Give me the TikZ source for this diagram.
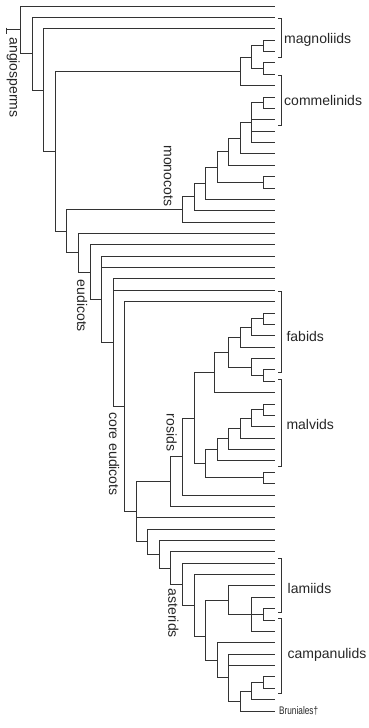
\documentclass[tikz,border=0pt]{standalone}
\usepackage{fontspec}
\setmainfont{Liberation Sans}
\newfontfamily\narrowfont[FakeStretch=0.75]{Liberation Sans}

\begin{document}
\begin{tikzpicture}[x=11.55pt, y=-11.37pt,
    every node/.style = {inner sep=0pt, text=black!85,
      font=\fontsize{14}{14}\selectfont},
    branch/.style = {draw=black!80, line width=0.8pt}]
  \tikzstyle{bracket}=[draw=black!80, line width=0.8pt]
  \tikzstyle{group}=[rotate=-90]
  \useasboundingbox (-1.792,-0.528) rectangle (30.07,63.5);

  % leaves, one per row
  \foreach \i in {0,...,62}
    \coordinate (l\i) at (22,\i);

  % backbone
  \coordinate (stem) at (-1.21,2.1);
  \coordinate (root) at (0,2.1);
  \coordinate (A) at (1,4.19);
  \coordinate (B) at (2,7.39);
  \coordinate (C) at (3,12.775);
  \coordinate (D) at (4,19.8);

  % magnoliids
  \coordinate (Mg) at (19,5.75);
  \coordinate (Mg1) at (20,4.5);
  \coordinate (c34) at (21,3.5);
  \coordinate (c56) at (21,5.5);

  % monocots
  \coordinate (M1) at (14,17.895);
  \coordinate (M2) at (15,16.789);
  \coordinate (M3) at (16,15.578);
  \coordinate (M4) at (17,14.156);
  \coordinate (M5) at (18,12.8125);
  \coordinate (M6) at (19,11.625);
  \coordinate (M7) at (20,10.25);
  \coordinate (c89) at (21,8.5);
  \coordinate (c1516) at (21,15.5);

  % eudicots
  \coordinate (E) at (5,21.70);
  \coordinate (F) at (6,23.40);
  \coordinate (G) at (7,25.81);
  \coordinate (H) at (8,29.62);
  \coordinate (I) at (9,35.23);
  \coordinate (J) at (10,44.46);

  % rosids
  \coordinate (Ros) at (13,41.81);
  \coordinate (RosA) at (14,39.62);
  \coordinate (RosB) at (15,36.24);
  \coordinate (Fab) at (16.8,32.22);
  \coordinate (Fa4) at (18,30.4375);
  \coordinate (Fa2) at (19,29.125);
  \coordinate (Fa1) at (20,28.25);
  \coordinate (Fa3) at (20,31.75);
  \coordinate (c2728) at (21,27.5);
  \coordinate (c3233) at (21,32.5);
  \coordinate (Mal) at (16,40.27);
  \coordinate (Ma4) at (17,39.03);
  \coordinate (Ma3) at (18,38.0625);
  \coordinate (Ma2) at (19,37.125);
  \coordinate (Ma1) at (20,36.25);
  \coordinate (c3536) at (21,35.5);
  \coordinate (c4142) at (21,41.5);

  % asterids
  \coordinate (K) at (11,47.11);
  \coordinate (L) at (12,48.22);
  \coordinate (N) at (13,49.43);
  \coordinate (O) at (14,50.87);
  \coordinate (P) at (15,52.74);
  \coordinate (Q) at (16,55.47);
  \coordinate (Lam) at (18,52.25);
  \coordinate (Lm2) at (20,53.5);
  \coordinate (c5354) at (21,53.5);
  \coordinate (Cam) at (17,57.53);
  \coordinate (Cm2) at (18,59.06);
  \coordinate (Cm3) at (19,61.125);
  \coordinate (Cm4) at (20,60.25);
  \coordinate (c5960) at (21,59.5);

  \draw[branch] (stem) -- (root);
  \draw[bracket] (-1.21,1.9) -- (-1.21,2.5);

  \foreach \p/\c in {root/l0, root/A, A/l1, A/B, B/l2, B/C, C/Mg, C/D,
      Mg/Mg1, Mg/l7, Mg1/c34, Mg1/c56, c34/l3, c34/l4, c56/l5, c56/l6,
      D/M1, D/E, M1/M2, M1/l19, M2/M3, M2/l18, M3/M4, M3/l17,
      M4/M5, M4/c1516, c1516/l15, c1516/l16, M5/M6, M5/l14,
      M6/M7, M6/l13, M7/c89, M7/l10, M7/l11, M7/l12, c89/l8, c89/l9,
      E/l20, E/F, F/l21, F/G, G/l22, G/l23, G/H, H/l24, H/l25, H/I,
      I/l26, I/J, J/Ros, J/l45, J/K,
      Ros/RosA, Ros/l44, RosA/RosB, RosA/l43, RosB/Fab, RosB/Mal,
      Fab/Fa4, Fab/l34, Fa4/Fa2, Fa4/Fa3, Fa2/Fa1, Fa2/l30,
      Fa1/c2728, Fa1/l29, c2728/l27, c2728/l28,
      Fa3/l31, Fa3/c3233, c3233/l32, c3233/l33,
      Mal/Ma4, Mal/c4142, c4142/l41, c4142/l42, Ma4/Ma3, Ma4/l40,
      Ma3/Ma2, Ma3/l39, Ma2/Ma1, Ma2/l38, Ma1/c3536, Ma1/l37,
      c3536/l35, c3536/l36,
      K/l46, K/L, L/l47, L/N, N/l48, N/O, O/l49, O/P, P/l50, P/Q,
      Q/Lam, Q/Cam, Lam/l51, Lam/Lm2, Lm2/l52, Lm2/c5354, Lm2/l55,
      c5354/l53, c5354/l54,
      Cam/l56, Cam/Cm2, Cm2/l57, Cm2/l58, Cm2/Cm3, Cm3/Cm4, Cm3/l62,
      Cm4/c5960, Cm4/l61, c5960/l59, c5960/l60}
    \draw[branch] (\p) |- (\c);

  % brackets on the right
  \foreach \a/\b in {1.05/4.49, 6.09/10.47, 25.13/32.25, 32.83/40.46,
      48.58/53.36, 53.85/60.45}
    \draw[bracket] (22.3,\a) -- (22.6,\a) -- (22.6,\b) -- (22.3,\b);

  \node[anchor=west] (magnoliids) at (22.8,3.0) {magnoliids};
  \node[anchor=west] (commelinids) at (22.8,8.27) {commelinids};
  \node[anchor=west] (fabids) at (23.0,29.08) {fabids};
  \node[anchor=west] (malvids) at (23.0,36.85) {malvids};
  \node[anchor=west] (lamiids) at (23.1,51.2) {lamiids};
  \node[anchor=west] (campanulids) at (23.1,57.1) {campanulids};
  \node[anchor=west, font=\narrowfont\fontsize{11}{11}\selectfont]
    (bruniales) at (22.36,62) {Bruniales†};

  % clade names along the branches
  \node[group] (angiosperms) at (-0.64,6.29) {angiosperms};
  \node[group] (monocots) at (12.78,14.94) {monocots};
  \node[group] (eudicots) at (5.31,26.37) {eudicots};
  \node[group] (coreeudicots) at (8.09,39.4) {core eudicots};
  \node[group] (rosids) at (13.07,37.51) {rosids};
  \node[group] (asterids) at (13.21,53.41) {asterids};
\end{tikzpicture}
\end{document}
